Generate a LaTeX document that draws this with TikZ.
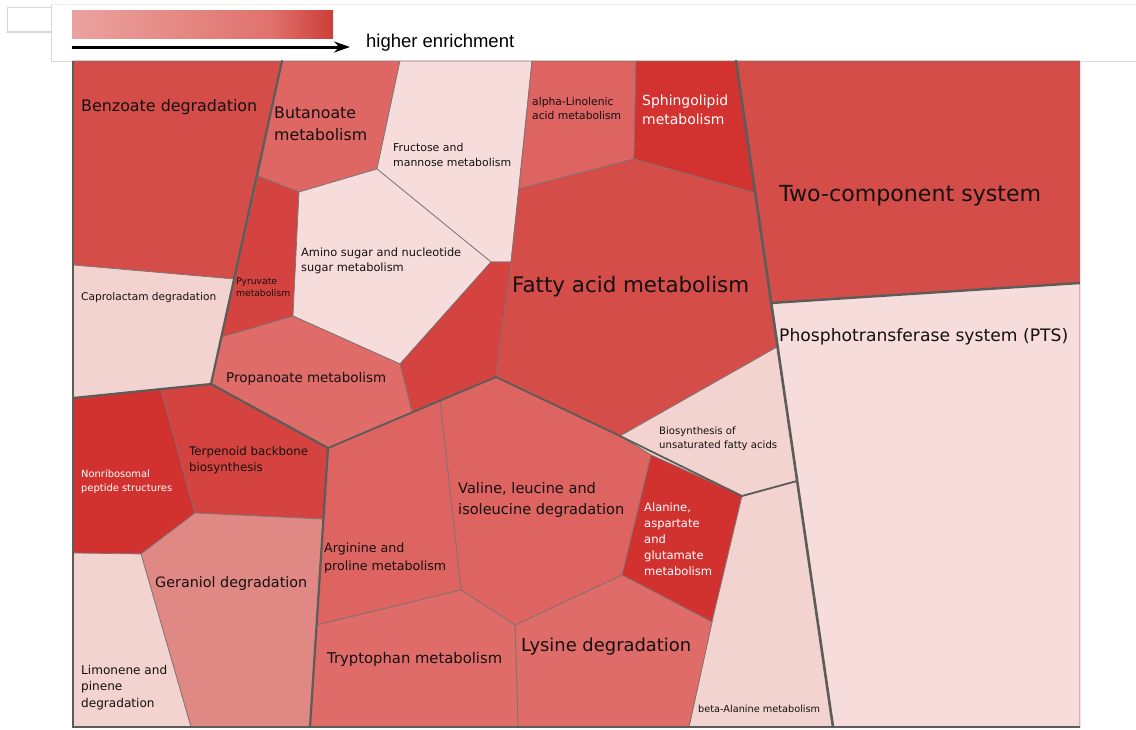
\documentclass[tikz,border=0pt]{standalone}
\usepackage{fontspec}
\setmainfont{DejaVu Sans}
\newfontfamily\legfont{Liberation Sans}
\usepackage{graphicx}
\usetikzlibrary{arrows.meta}
\definecolor{cDark}{HTML}{D2322F}
\definecolor{cRed}{HTML}{D4433F}
\definecolor{cBenz}{HTML}{D54D49}
\definecolor{cMid}{HTML}{DD6461}
\definecolor{cGer}{HTML}{E08884}
\definecolor{cPale}{HTML}{F2D3CF}
\definecolor{cPaler}{HTML}{F6DDDB}
\definecolor{cellline}{HTML}{7C7272}
\definecolor{majorline}{HTML}{5C5C5A}
\definecolor{framegray}{HTML}{D8D8D8}
\definecolor{labtext}{HTML}{151010}
\definecolor{gradA}{HTML}{EBA29E}
\definecolor{gradB}{HTML}{E0726D}
\definecolor{gradC}{HTML}{CC3E39}
\newcommand\lbl[2]{\resizebox{#1pt}{!}{\fontsize{10}{13.8}\selectfont\begin{tabular}{@{}l@{}}#2\end{tabular}}}
\begin{document}
\begin{tikzpicture}[x=1pt,y=-1pt,
  cell/.style={draw=cellline,line width=0.7pt,line join=round},
  major/.style={draw=majorline,line width=2.2pt,line cap=round,line join=round},
  lab/.style={anchor=west,inner sep=0pt,text=labtext,yshift=-2pt},
  wlab/.style={anchor=west,inner sep=0pt,text=white,yshift=-2pt}]
\useasboundingbox (0,0) rectangle (1136,729);
\fill[white] (0,0) rectangle (1136,729);
% legend frame
\draw[framegray,line width=0.8pt] (7,7) rectangle (51,31);
\draw[framegray,line width=0.8pt] (6,32) -- (51,32);
\draw[framegray!40,line width=0.6pt] (51,4) -- (1136,4);
\draw[framegray,line width=0.8pt] (51,4) -- (51,61) -- (1136,61);
% gradient bar
\shade[left color=gradA,right color=gradB] (72,10) rectangle (270,38);
\shade[left color=gradB,right color=gradC] (269.5,10) rectangle (333,38);
\coordinate (arrS) at (72,47);
\coordinate (arrE) at (350,47);
\draw[line width=3pt,-{Stealth[length=16pt,width=11pt]}] (arrS) -- (arrE);
\node[anchor=west,inner sep=0pt,text=black] (legend) at (366,43) {\resizebox{148pt}{!}{\legfont\fontsize{10}{12}\selectfont higher enrichment}};
% cells
\filldraw[cell,fill=cBenz] (73,61) -- (282,61) -- (234,279) -- (73,265) -- cycle;
\filldraw[cell,fill=cPale] (73,265) -- (234,279) -- (211,384) -- (73,398) -- cycle;
\filldraw[cell,fill=cMid!98!white] (282,61) -- (400,61) -- (377,169) -- (299,192) -- (258,176) -- cycle;
\filldraw[cell,fill=cRed] (258,176) -- (299,192) -- (293,316) -- (222,337) -- cycle;
\filldraw[cell,fill=cPaler] (400,61) -- (532,61) -- (511,262) -- (491,262) -- (377,169) -- cycle;
\filldraw[cell,fill=cPaler] (377,169) -- (491,262) -- (400,364) -- (293,316) -- (299,192) -- cycle;
\filldraw[cell,fill=cRed] (491,262) -- (511,262) -- (496,377) -- (412,412) -- (400,364) -- cycle;
\filldraw[cell,fill=cMid!95!white] (222,337) -- (293,316) -- (400,364) -- (412,412) -- (328,448) -- (211,384) -- cycle;
\filldraw[cell,fill=cMid] (532,61) -- (636,61) -- (634,159) -- (519,189) -- cycle;
\filldraw[cell,fill=cDark!95!cRed] (636,61) -- (736,61) -- (755,193) -- (634,159) -- cycle;
\filldraw[cell,fill=cBenz] (519,189) -- (634,159) -- (755,193) -- (777,347) -- (620,436) -- (496,377) -- (511,262) -- cycle;
\filldraw[cell,fill=cPale] (620,436) -- (777,347) -- (797,481) -- (742,496) -- (651,455) -- cycle;
\filldraw[cell,fill=cDark] (651,455) -- (742,496) -- (712,622) -- (622,575) -- cycle;
\filldraw[cell,fill=cPale] (742,496) -- (797,481) -- (833,727) -- (689,727) -- (712,622) -- cycle;
\filldraw[cell,fill=cMid!95!white] (622,575) -- (712,622) -- (689,727) -- (518,727) -- (515,625) -- cycle;
\filldraw[cell,fill=cMid] (440,401) -- (496,377) -- (620,436) -- (651,455) -- (622,575) -- (515,625) -- (461,590) -- cycle;
\filldraw[cell,fill=cMid] (328,448) -- (412,412) -- (440,401) -- (461,590) -- (317,625) -- cycle;
\filldraw[cell,fill=cMid!95!white] (317,625) -- (461,590) -- (515,625) -- (518,727) -- (310,727) -- cycle;
\filldraw[cell,fill=cDark] (73,398) -- (161,389) -- (195,513) -- (141,554) -- (73,553) -- cycle;
\filldraw[cell,fill=cRed] (161,389) -- (211,384) -- (328,448) -- (323,519) -- (195,513) -- cycle;
\filldraw[cell,fill=cGer] (195,513) -- (323,519) -- (310,727) -- (191,727) -- (141,554) -- cycle;
\filldraw[cell,fill=cPale] (73,553) -- (141,554) -- (191,727) -- (73,727) -- cycle;
\filldraw[cell,fill=cBenz] (736,61) -- (1080,61) -- (1080,283) -- (771,303) -- cycle;
\filldraw[cell,fill=cPaler] (771,303) -- (1080,283) -- (1080,727) -- (833,727) -- cycle;
% major boundaries
\draw[major] (282,61) -- (211,384) -- (73,398);
\draw[major] (211,384) -- (328,448) -- (310,727);
\draw[major,line width=1.8pt] (328,448) -- (496,377) -- (620,436) -- (742,496) -- (797,481);
\draw[major,line width=2.6pt] (736,61) -- (833,727);
\draw[major,line width=2.4pt] (771,303) -- (1080,283);
\draw[majorline,line width=2.2pt] (73,61) -- (73,727) -- (1080,727);
\draw[cPale!60!white,line width=0.8pt] (1080,61) -- (1080,726);
% labels
\node[lab] (benzoate) at (81,105) {\lbl{176}{Benzoate degradation}};
\node[lab] (butanoate) at (274,123) {\lbl{93}{Butanoate\\metabolism}};
\node[lab] (fructose) at (393,154) {\lbl{118}{Fructose and\\mannose metabolism}};
\node[lab] (alpha) at (532,107.5) {\lbl{89}{alpha-Linolenic\\acid metabolism}};
\node[wlab] (sphingo) at (642,109) {\lbl{86}{Sphingolipid\\metabolism}};
\node[lab] (twocomp) at (779,193) {\lbl{262}{Two-component system}};
\node[lab] (amino) at (301,259) {\lbl{160}{Amino sugar and nucleotide\\sugar metabolism}};
\node[lab] (pyruvate) at (236,286) {\lbl{54}{Pyruvate\\metabolism}};
\node[lab] (caprolactam) at (81,296) {\lbl{135}{Caprolactam degradation}};
\node[lab] (fatty) at (512,285) {\lbl{237}{Fatty acid metabolism}};
\node[lab] (pts) at (779,335) {\lbl{289}{Phosphotransferase system (PTS)}};
\node[lab] (propanoate) at (226,377) {\lbl{160}{Propanoate metabolism}};
\node[lab] (biosyn) at (659,437) {\lbl{118}{Biosynthesis of\\unsaturated fatty acids}};
\node[lab] (terpenoid) at (189,458) {\lbl{119}{Terpenoid backbone\\biosynthesis}};
\node[wlab] (nonribo) at (81,480) {\lbl{91}{Nonribosomal\\peptide structures}};
\node[lab] (valine) at (458,498) {\lbl{166}{Valine, leucine and\\isoleucine degradation}};
\node[wlab] (alanine) at (644,538) {\lbl{68}{Alanine,\\aspartate\\and\\glutamate\\metabolism}};
\node[lab] (arginine) at (324,556) {\lbl{122}{Arginine and\\proline metabolism}};
\node[lab] (geraniol) at (155,582) {\lbl{152}{Geraniol degradation}};
\node[lab] (limonene) at (81,685.5) {\lbl{86}{Limonene and\\pinene\\degradation}};
\node[lab] (tryptophan) at (327,657) {\lbl{175}{Tryptophan metabolism}};
\node[lab] (lysine) at (521,645) {\lbl{170}{Lysine degradation}};
\node[lab] (betaala) at (698,708) {\lbl{122}{beta-Alanine metabolism}};
\end{tikzpicture}
\end{document}
